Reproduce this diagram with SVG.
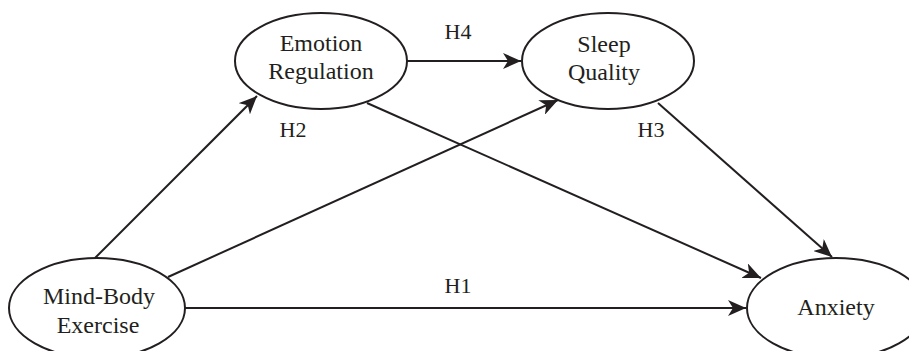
<svg xmlns="http://www.w3.org/2000/svg" width="909" height="351" viewBox="0 0 909 351">
<defs>
<style>
.node{fill:#fff;stroke:#231f20;stroke-width:2}
.t{font-family:"Liberation Serif","Times New Roman",serif;font-size:24px;fill:#231f20;text-anchor:middle}
.lbl{font-family:"Liberation Serif","Times New Roman",serif;font-size:22px;fill:#231f20;text-anchor:middle}
.edge{stroke:#231f20;stroke-width:2;fill:none;marker-end:url(#ah)}
</style>
<marker id="ah" markerUnits="userSpaceOnUse" markerWidth="20" markerHeight="16" refX="18" refY="8" orient="auto">
<path d="M0,0 L18,8 L0,16 L5,8 z" fill="#231f20"/>
</marker>
</defs>
<rect width="909" height="351" fill="#fff"/>
<g id="connectors">
<line class="edge" x1="95" y1="258" x2="257" y2="96"/>
<line class="edge" x1="168" y1="277" x2="558" y2="100"/>
<line class="edge" x1="185" y1="308" x2="746" y2="308"/>
<line class="edge" x1="407" y1="61" x2="521" y2="61"/>
<line class="edge" x1="367" y1="103" x2="761" y2="278"/>
<line class="edge" x1="658" y1="103" x2="832" y2="257"/>
</g>
<g id="labels">
<text class="lbl" x="458" y="39">H4</text>
<text class="lbl" x="293" y="137">H2</text>
<text class="lbl" x="651" y="137">H3</text>
<text class="lbl" x="458" y="293">H1</text>
</g>
<g id="emotion-regulation">
<ellipse class="node" cx="321" cy="61" rx="86" ry="48"/>
<text class="t" x="321" y="51">Emotion</text>
<text class="t" x="321" y="79">Regulation</text>
</g>
<g id="sleep-quality">
<ellipse class="node" cx="608" cy="61" rx="86" ry="48"/>
<text class="t" x="604" y="52">Sleep</text>
<text class="t" x="604" y="80">Quality</text>
</g>
<g id="mind-body-exercise">
<ellipse class="node" cx="97" cy="308" rx="88" ry="50"/>
<text class="t" x="99" y="304">Mind-Body</text>
<text class="t" x="98" y="333">Exercise</text>
</g>
<g id="anxiety">
<ellipse class="node" cx="836" cy="308" rx="89" ry="50"/>
<text class="t" x="836" y="315">Anxiety</text>
</g>
</svg>
